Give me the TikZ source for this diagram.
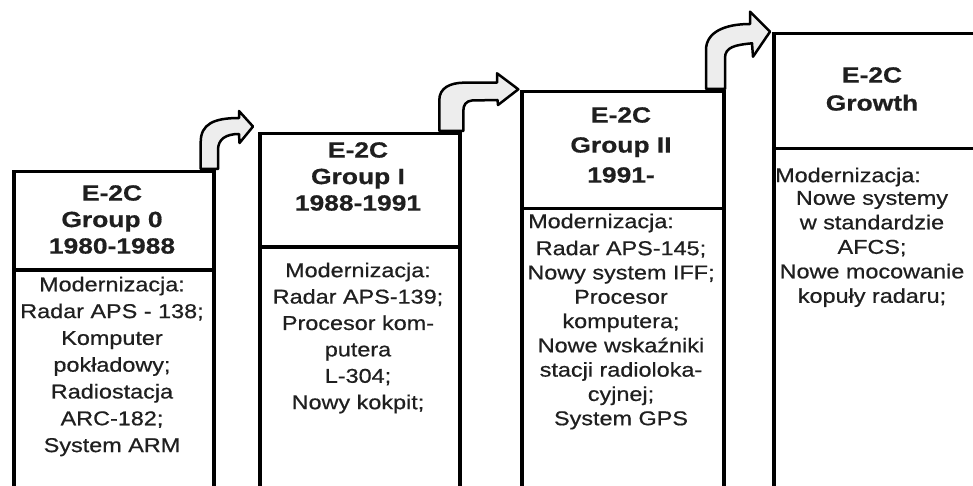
\documentclass[tikz,border=0pt]{standalone}
\usepackage{fontspec}
\setmainfont{Liberation Sans}[FakeStretch=1.17, FakeBold=0.6]
\newfontfamily\headfont{Liberation Sans Bold}[FakeStretch=1.2, FakeBold=0.6]
\begin{document}
\begin{tikzpicture}[x=1pt,y=-1pt,
  frame/.style={draw=black, line width=3.5pt, rectangle, inner sep=0pt, anchor=north west, minimum width=200pt},
  headtxt/.style={align=center, font=\fontsize{22}{26.5}\selectfont\headfont, text=black!88, inner sep=0pt},
  bodytxt/.style={align=center, font=\fontsize{20}{26.6}\selectfont, text=black!88, inner sep=0pt},
  bendarrow/.style={draw=black, line width=2.5pt, fill=black!7, line join=round}]
\useasboundingbox (0,0) rectangle (973,486);
\clip (0,0) rectangle (973,486);
\fill[white] (0,0) rectangle (973,486);
% arrows (drawn first, boxes on top)
\draw[bendarrow] (200.7,169) -- (200.7,142) .. controls (200.7,124) and (214,118) .. (239,118)
  -- (239,111) -- (253,126.5) -- (239.5,143) -- (239,134)
  .. controls (226,134) and (218,139) .. (218,150) -- (218,169) -- cycle;
\draw[bendarrow] (439.3,131) -- (439.3,100) .. controls (439.3,88) and (450,83) .. (463,82.7) -- (497,82.7)
  -- (497,73.3) -- (518.3,89.3) -- (498,105) -- (497.5,100)
  -- (472,100.5) .. controls (466,101) and (463.3,105) .. (463.3,111) -- (463.3,131) -- cycle;
\draw[bendarrow] (706,89) -- (706,50) .. controls (706,32) and (725,24) .. (750,24)
  -- (750,11.7) -- (770,31.7) -- (753,56.7) -- (752,43.3)
  .. controls (735,45) and (725,47) .. (725,58) -- (725,89) -- cycle;
% boxes
\node[frame, minimum height=98pt] (h1) at (12,170) {};
\node[frame, minimum height=250pt] (b1) at (12,268) {};
\node[frame, minimum height=113pt] (h2) at (258,132) {};
\node[frame, minimum height=270pt] (b2) at (258,245) {};
\node[frame, minimum width=202pt, minimum height=117pt] (h3) at (520,90) {};
\node[frame, minimum width=202pt, minimum height=300pt] (b3) at (520,207) {};
\node[frame, minimum width=215pt, minimum height=115pt] (h4) at (772,32) {};
\node[frame, minimum width=215pt, minimum height=360pt] (b4) at (772,147) {};
% texts
\node[headtxt] (t1h) at (112,219.5) {E-2C\\Group 0\\1980-1988};
\node[bodytxt, font=\fontsize{20}{26.8}\selectfont] (t1b) at (112,366.5) {Modernizacja:\\Radar APS - 138;\\Komputer\\pokładowy;\\Radiostacja\\ARC-182;\\System ARM};
\node[headtxt] (t2h) at (358,176.5) {E-2C\\Group I\\1988-1991};
\node[bodytxt, font=\fontsize{20}{26.4}\selectfont] (t2b) at (358,338) {Modernizacja:\\Radar APS-139;\\Procesor kom-\\putera\\L-304;\\Nowy kokpit;};
\node[headtxt, font=\fontsize{22}{30}\selectfont\headfont] (t3h) at (621,145) {E-2C\\Group II\\1991-};
\node[bodytxt, anchor=west] (t3m) at (528,223) {Modernizacja:};
\node[bodytxt, font=\fontsize{20}{24.3}\selectfont] (t3b) at (621,335) {Radar APS-145;\\Nowy system IFF;\\Procesor\\komputera;\\Nowe wskaźniki\\stacji radioloka-\\cyjnej;\\System GPS};
\node[headtxt, font=\fontsize{22}{28}\selectfont\headfont] (t4h) at (872,89) {E-2C\\Growth};
\node[bodytxt, anchor=west] (t4m) at (775,177) {Modernizacja:};
\node[bodytxt, font=\fontsize{20}{24.5}\selectfont] (t4b) at (872,249) {Nowe systemy\\w standardzie\\AFCS;\\Nowe mocowanie\\kopuły radaru;};
\end{tikzpicture}
\end{document}
